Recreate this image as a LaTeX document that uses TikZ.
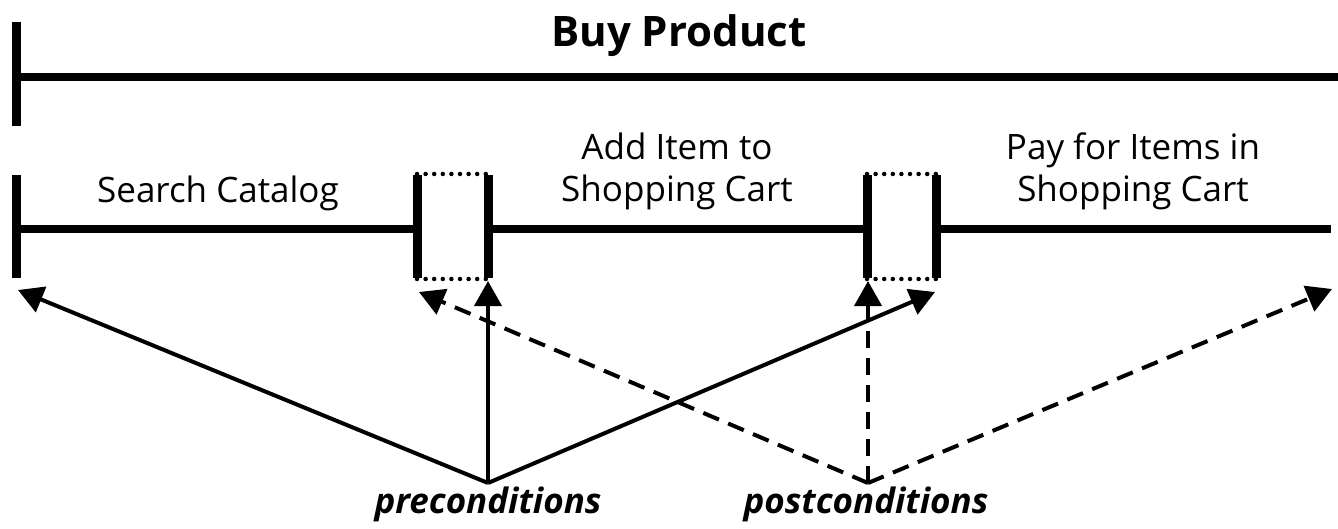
\documentclass[tikz,border=0pt]{standalone}
\usepackage{fontspec}
\setmainfont{Open Sans}
\usetikzlibrary{arrows.meta}

\tikzset{
  bar/.style={line width=9pt, line cap=butt},
  rail/.style={line width=8pt, line cap=butt},
  gap/.style={line width=4.5pt, line cap=round, dash pattern=on 0pt off 8.6pt},
  link/.style={line width=4pt, -{Triangle[length=25pt,width=27pt]}},
  dlink/.style={link, dash pattern=on 17pt off 10pt},
  stage/.style={font=\fontsize{35}{42}\selectfont, align=center, anchor=base, inner sep=0pt},
  title/.style={font=\fontsize{42}{48}\selectfont\bfseries, anchor=base, inner sep=0pt},
  cond/.style={font=\fontsize{35}{41}\selectfont\bfseries\itshape, anchor=base, inner sep=0pt}
}

\begin{document}
\begin{tikzpicture}[x=1pt, y=-1pt]
  \useasboundingbox (0,0) rectangle (1338,529);

  % overall use case
  \coordinate (topA) at (16,22);
  \coordinate (topB) at (16,126);
  \coordinate (topL) at (16,77);
  \coordinate (topR) at (1338,77);
  \draw[bar] (topA) -- (topB);
  \draw[rail] (topL) -- (topR);
  \node[title] (buy) at (679,47) {Buy Product};

  % sequence of steps
  \coordinate (s0a) at (16,175);
  \coordinate (s0b) at (16,278);
  \coordinate (s0) at (16,229);
  \coordinate (b1l) at (417,229);
  \coordinate (b1r) at (488,229);
  \coordinate (b2l) at (867,229);
  \coordinate (b2r) at (936,229);
  \coordinate (sEnd) at (1331,229);
  \coordinate (b1la) at (417,175); \coordinate (b1lb) at (417,278);
  \coordinate (b1ra) at (488,175); \coordinate (b1rb) at (488,278);
  \coordinate (b2la) at (867,175); \coordinate (b2lb) at (867,278);
  \coordinate (b2ra) at (936,175); \coordinate (b2rb) at (936,278);

  \draw[rail] (s0) -- (b1l);
  \draw[rail] (b1r) -- (b2l);
  \draw[rail] (b2r) -- (sEnd);
  \draw[bar] (s0a) -- (s0b);
  \draw[bar] (b1la) -- (b1lb);
  \draw[bar] (b1ra) -- (b1rb);
  \draw[bar] (b2la) -- (b2lb);
  \draw[bar] (b2ra) -- (b2rb);

  % hand-over gaps between steps
  \draw[gap] ([yshift=1pt]b1la) -- ([yshift=1pt]b1ra);
  \draw[gap] ([yshift=-1pt]b1lb) -- ([yshift=-1pt]b1rb);
  \draw[gap] ([yshift=1pt]b2la) -- ([yshift=1pt]b2ra);
  \draw[gap] ([yshift=-1pt]b2lb) -- ([yshift=-1pt]b2rb);

  % step names (base anchor sits on the last line)
  \node[stage] (search) at (218,203) {Search Catalog};
  \node[stage] (add) at (677,202) {Add Item to\\Shopping Cart};
  \node[stage] (pay) at (1133,202) {Pay for Items in\\Shopping Cart};

  % conditions
  \node[cond] (pre) at (488,513) {preconditions};
  \node[cond] (post) at (866,513) {postconditions};
  \coordinate (preA) at (488,483);
  \coordinate (postA) at (868,483);

  \coordinate (t1) at (18,290);
  \coordinate (t2) at (488,281);
  \coordinate (t3) at (935,292);
  \coordinate (u1) at (419,292);
  \coordinate (u2) at (868,281);
  \coordinate (u3) at (1332,289);

  \draw[link] (preA) -- (t1);
  \draw[link] (preA) -- (t2);
  \draw[link] (preA) -- (t3);
  \draw[dlink] (postA) -- (u1);
  \draw[dlink] (postA) -- (u2);
  \draw[dlink] (postA) -- (u3);
\end{tikzpicture}
\end{document}
